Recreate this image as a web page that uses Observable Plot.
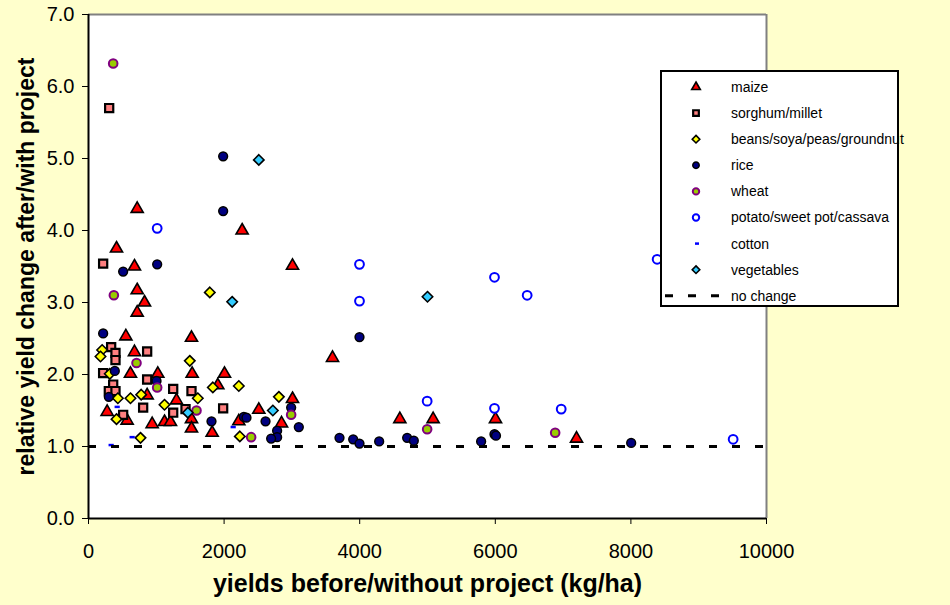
<!DOCTYPE html>
<html><head><meta charset="utf-8">
<script src="https://cdn.jsdelivr.net/npm/d3@7"></script>
<script src="https://cdn.jsdelivr.net/npm/@observablehq/plot@0.6"></script>
<style>
body{margin:0;background:#FFFFCC;}
#chart{position:relative;width:950px;height:605px;}
</style></head><body><div id="chart"></div>
<script>
// ---- data: [yield before (kg/ha), relative change] ----
const maize = [[718,4.30],[2266,4.00],[413,3.75],[678,3.50],[3009,3.51],[718,3.17],[826,3.00],[718,2.86],[551,2.53],[1519,2.51],[678,2.31],[619,2.01],[1022,2.01],[1529,2.01],[2006,2.01],[1907,1.85],[865,1.71],[1298,1.64],[1519,1.38],[1519,1.25],[275,1.48],[570,1.36],[939,1.31],[1121,1.34],[1209,1.34],[1824,1.19],[2217,1.35],[2512,1.51],[3009,1.66],[2847,1.32],[3599,2.23],[4592,1.38],[5083,1.38],[6003,1.38],[7198,1.11]];
const sorghum = [[305,5.70],[216,3.54],[334,2.38],[398,2.30],[398,2.20],[865,2.32],[216,2.02],[364,1.86],[865,1.93],[1249,1.80],[1519,1.77],[300,1.77],[398,1.77],[806,1.54],[1249,1.47],[1431,1.52],[1986,1.53],[511,1.44]];
const beans = [[1789,3.14],[201,2.34],[177,2.25],[1494,2.19],[314,2.01],[1834,1.82],[2217,1.84],[433,1.67],[619,1.67],[777,1.72],[1121,1.58],[1612,1.67],[413,1.38],[2808,1.69],[2232,1.14],[767,1.12]];
const rice = [[1986,5.03],[1986,4.27],[511,3.43],[1013,3.53],[216,2.57],[388,2.05],[1003,1.91],[300,1.69],[1814,1.35],[2291,1.41],[2330,1.40],[2611,1.35],[2989,1.54],[3102,1.27],[2782,1.22],[2782,1.13],[2694,1.11],[3997,2.52],[3702,1.12],[3904,1.10],[3997,1.04],[4287,1.07],[4700,1.12],[4798,1.08],[5791,1.07],[5988,1.17],[6010,1.15],[8004,1.05]];
const wheat = [[364,6.32],[374,3.10],[708,2.16],[1013,1.82],[1593,1.50],[2989,1.44],[2399,1.13],[4995,1.24],[6883,1.19]];
const potato = [[1013,4.03],[3997,3.53],[3997,3.02],[5988,3.35],[6470,3.10],[8387,3.60],[4995,1.63],[5988,1.53],[6972,1.52],[9508,1.10]];
const cotton = [[423,1.55],[644,1.13],[334,1.02],[2134,1.27]];
const vegetables = [[2512,4.98],[2119,3.01],[5000,3.08],[1465,1.47],[2719,1.50]];
const noChange = 1;
const xTicks = [0,2000,4000,6000,8000,10000];
const yTicks = [0,1,2,3,4,5,6,7];
const xTitle = "yields before/without project (kg/ha)";
const yTitle = "relative yield change after/with project";

const dash = {draw(ctx, size){ const r = Math.sqrt(size/Math.PI); ctx.moveTo(-r,0); ctx.lineTo(r,0); }};

const series = [
  {name:"maize", data:maize, symbol:"triangle", d3s:d3.symbolTriangle, fill:"#FF0000", stroke:"#000", r:4.5, sw:1.6, lr:3.2},
  {name:"sorghum/millet", data:sorghum, symbol:"square", d3s:d3.symbolSquare, fill:"#FF8080", stroke:"#000", r:4.6, sw:2.2, lr:3.2},
  {name:"beans/soya/peas/groundnut", data:beans, symbol:"diamond2", d3s:d3.symbolDiamond2, fill:"#FFFF00", stroke:"#000", r:4.7, sw:1.6, lr:3.4},
  {name:"rice", data:rice, symbol:"circle", d3s:d3.symbolCircle, fill:"#000080", stroke:"#000", r:4.4, sw:1.5, lr:3.2},
  {name:"wheat", data:wheat, symbol:"circle", d3s:d3.symbolCircle, fill:"#99CC00", stroke:"#800080", r:4.3, sw:2, lr:3.2},
  {name:"potato/sweet pot/cassava", data:potato, symbol:"circle", d3s:d3.symbolCircle, fill:"#FFFFFF", stroke:"#0000FF", r:4.4, sw:2, lr:3.2},
  {name:"cotton", data:cotton, symbol:dash, d3s:null, fill:"none", stroke:"#0000FF", r:2.6, sw:2.5, lr:1.6},
  {name:"vegetables", data:vegetables, symbol:"diamond2", d3s:d3.symbolDiamond2, fill:"#33CCFF", stroke:"#000", r:4.7, sw:1.6, lr:3.4}
];

const font = "'Liberation Sans', Arial, sans-serif";
const marks = [
  Plot.frame({fill:"white", stroke:null}),
  Plot.ruleY([7], {stroke:"#808080", strokeWidth:2}),
  Plot.ruleX([10000], {stroke:"#808080", strokeWidth:2}),
  ...series.map(s => Plot.dot(s.data, {x:d=>d[0], y:d=>d[1], symbol:s.symbol, r:s.r, fill:s.fill, stroke:s.stroke, strokeWidth:s.sw})),
  Plot.ruleY([noChange], {stroke:"black", strokeWidth:3, strokeDasharray:"8,15"}),
  Plot.ruleX([0], {stroke:"black", strokeWidth:2}),
  Plot.ruleY([0], {stroke:"black", strokeWidth:2}),
  Plot.axisX({ticks:xTicks, tickSize:6, tickPadding:19, fontSize:20, label:null, tickFormat:d=>String(d)}),
  Plot.axisY({ticks:yTicks, tickSize:6, tickPadding:8, fontSize:20, label:null, tickFormat:d=>d.toFixed(1)}),
  Plot.text([xTitle], {text:d=>d, frameAnchor:"bottom", textAnchor:"middle", lineAnchor:"middle", dy:65, fontSize:25, fontWeight:"bold", fill:"black"}),
  Plot.text([yTitle], {text:d=>d, frameAnchor:"left", textAnchor:"middle", lineAnchor:"middle", dx:-62, rotate:-90, fontSize:23, fontWeight:"bold", fill:"black"})
];

const chart = Plot.plot({
  width:950, height:605,
  marginTop:14, marginRight:184, marginBottom:87, marginLeft:88,
  x:{domain:[0,10000]},
  y:{domain:[0,7]},
  style:{fontFamily:font, background:"#FFFFCC", color:"black", overflow:"visible"},
  marks
});
document.getElementById("chart").appendChild(chart);

// legend
const svg = d3.select(chart);
const lg = svg.append("g").attr("text-anchor","start");
lg.append("rect").attr("x",661).attr("y",71).attr("width",237).attr("height",235).attr("fill","white").attr("stroke","black").attr("stroke-width",2);
const rowY = i => 87 + i*26.1;
series.forEach((s,i) => {
  const y = rowY(i);
  if (s.d3s) {
    lg.append("path").attr("transform",`translate(696,${y})`)
      .attr("d", d3.symbol(s.d3s, Math.PI*s.lr*s.lr)())
      .attr("fill", s.fill).attr("stroke", s.stroke).attr("stroke-width", s.sw);
  } else {
    lg.append("line").attr("x1",695).attr("x2",699).attr("y1",y).attr("y2",y).attr("stroke",s.stroke).attr("stroke-width",2.5);
  }
  lg.append("text").attr("x",731).attr("y",y).attr("dy","0.35em").attr("text-anchor","start").attr("font-size",14).attr("font-family",font).text(s.name);
});
const yn = rowY(8);
lg.append("line").attr("x1",665).attr("x2",721).attr("y1",yn).attr("y2",yn).attr("stroke","black").attr("stroke-width",3).attr("stroke-dasharray","8,15");
lg.append("text").attr("x",731).attr("y",yn).attr("dy","0.35em").attr("text-anchor","start").attr("font-size",14).attr("font-family",font).text("no change");
</script></body></html>
